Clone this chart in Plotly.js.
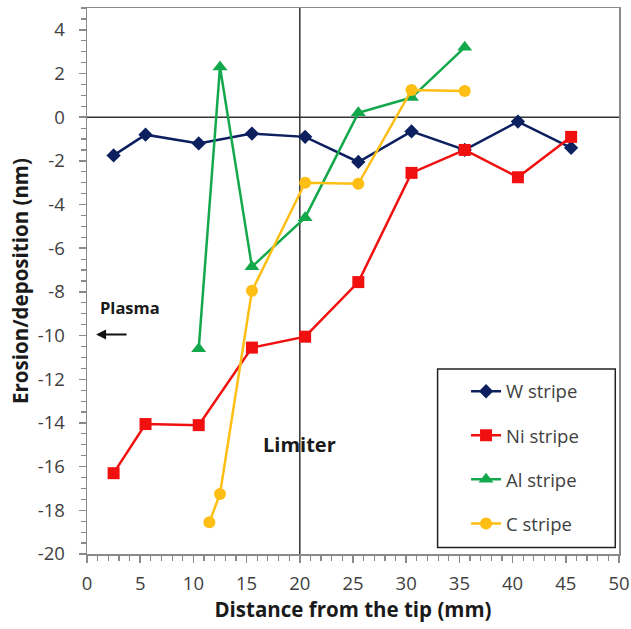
<!DOCTYPE html>
<html>
<head>
<meta charset="utf-8">
<script src="https://cdn.plot.ly/plotly-3.0.1.min.js"></script>
<style>html,body{margin:0;padding:0;background:#fff;}#chart{width:631px;height:629px;}</style>
</head>
<body>
<div id="chart"></div>
<script>
const wX = [2.5, 5.5, 10.5, 15.5, 20.5, 25.5, 30.5, 35.5, 40.5, 45.5];
const wY = [-1.75, -0.8, -1.2, -0.75, -0.9, -2.05, -0.65, -1.5, -0.2, -1.4];
const niX = [2.5, 5.5, 10.5, 15.5, 20.5, 25.5, 30.5, 35.5, 40.5, 45.5];
const niY = [-16.3, -14.05, -14.1, -10.55, -10.05, -7.55, -2.55, -1.5, -2.75, -0.9];
const alX = [10.5, 12.5, 15.5, 20.5, 25.5, 30.5, 35.5];
const alY = [-10.6, 2.3, -6.85, -4.6, 0.2, 0.9, 3.2];
const cX = [11.5, 12.5, 15.5, 20.5, 25.5, 30.5, 35.5];
const cY = [-18.55, -17.25, -7.95, -3.0, -3.05, 1.25, 1.2];
const seriesNames = ['W stripe', 'Ni stripe', 'Al stripe', 'C stripe'];
const yTickVals = [-20, -18, -16, -14, -12, -10, -8, -6, -4, -2, 0, 2, 4];
const yTickText = ['-20', '-18', '-16', '-14', '-12', '-10', '-8', '-6', '-4', '-2', '0', '2', '4'];

const FONT = '"Open Sans", sans-serif';
function tr(x, y, name, color, symbol, size, g) {
  return {x: x, y: y, name: name, type: 'scatter', mode: 'lines+markers',
    line: {color: color, width: 2.5}, marker: {color: color, symbol: symbol, size: size},
    legendgroup: g};
}
const data = [
  tr(wX, wY, seriesNames[0], '#0C1F5E', 'diamond', 11, 'a'),
  tr(niX, niY, seriesNames[1], '#F01010', 'square', 12, 'b'),
  tr(alX, alY, seriesNames[2], '#14A84C', 'triangle-up', 13, 'c'),
  tr(cX, cY, seriesNames[3], '#FFBE14', 'circle', 12, 'd')
];
const layout = {
  width: 631, height: 629,
  margin: {l: 87, r: 12, t: 8, b: 75},
  paper_bgcolor: '#fff', plot_bgcolor: '#fff',
  font: {family: FONT, color: '#404040'},
  showlegend: true,
  legend: {x: 0.7125, y: 0.332, xanchor: 'left', yanchor: 'top', bgcolor: 'rgba(0,0,0,0)',
    borderwidth: 0, font: {size: 18.5, color: '#404040', family: FONT},
    traceorder: 'grouped', tracegroupgap: 17, itemwidth: 30},
  xaxis: {range: [0, 50], dtick: 5, tick0: 0, showgrid: false, zeroline: false,
    showline: true, linecolor: '#8a8a8a', linewidth: 1.5, mirror: true,
    ticks: 'outside', ticklen: 7, tickcolor: '#8a8a8a', tickwidth: 1.5,
    minor: {dtick: 1, ticks: 'outside', ticklen: 5, tickcolor: '#8a8a8a', tickwidth: 1.2},
    tickfont: {size: 18.5, color: '#404040'}, ticklabelstandoff: 5,
    title: {text: '<b>Distance from the tip (mm)</b>', font: {size: 20.5, color: '#1a1a1a'}, standoff: 7}},
  yaxis: {range: [-20, 5], tickmode: 'array', tickvals: yTickVals, ticktext: yTickText,
    showgrid: false, zeroline: false,
    showline: true, linecolor: '#8a8a8a', linewidth: 1.5, mirror: true,
    ticks: 'outside', ticklen: 7, tickcolor: '#8a8a8a', tickwidth: 1.5,
    minor: {dtick: 0.5, ticks: 'outside', ticklen: 5, tickcolor: '#8a8a8a', tickwidth: 1.2},
    tickfont: {size: 18.5, color: '#404040'}, ticklabelstandoff: 10,
    title: {text: '<b>Erosion/deposition (nm)</b>', font: {size: 20.5, color: '#1a1a1a'}, standoff: 3}},
  shapes: [
    {type: 'line', xref: 'x', yref: 'y', x0: 0, x1: 50, y0: 0, y1: 0, line: {color: '#333', width: 1.5}, layer: 'below'},
    {type: 'line', xref: 'x', yref: 'y', x0: 20, x1: 20, y0: -20, y1: 5, line: {color: '#333', width: 1.5}, layer: 'below'},
    {type: 'rect', xref: 'paper', yref: 'paper', x0: 0.659, x1: 0.993, y0: 0.012, y1: 0.339,
      line: {color: '#222', width: 1.5}, fillcolor: '#fff', layer: 'above'}
  ],
  annotations: [
    {x: 4.0, y: -8.7, xref: 'x', yref: 'y', text: '<b>Plasma</b>', showarrow: false,
      font: {size: 16.5, color: '#1a1a1a'}},
    {x: 0.85, y: -9.95, xref: 'x', yref: 'y', text: '', showarrow: true, ax: 32, ay: 0,
      arrowhead: 2, arrowsize: 1, arrowwidth: 2, arrowcolor: '#111'},
    {x: 20, y: -15.0, xref: 'x', yref: 'y', text: '<b>Limiter</b>', showarrow: false,
      font: {size: 20, color: '#1a1a1a'}}
  ]
};
Plotly.newPlot('chart', data, layout, {displayModeBar: false, staticPlot: true});
</script>
</body>
</html>
